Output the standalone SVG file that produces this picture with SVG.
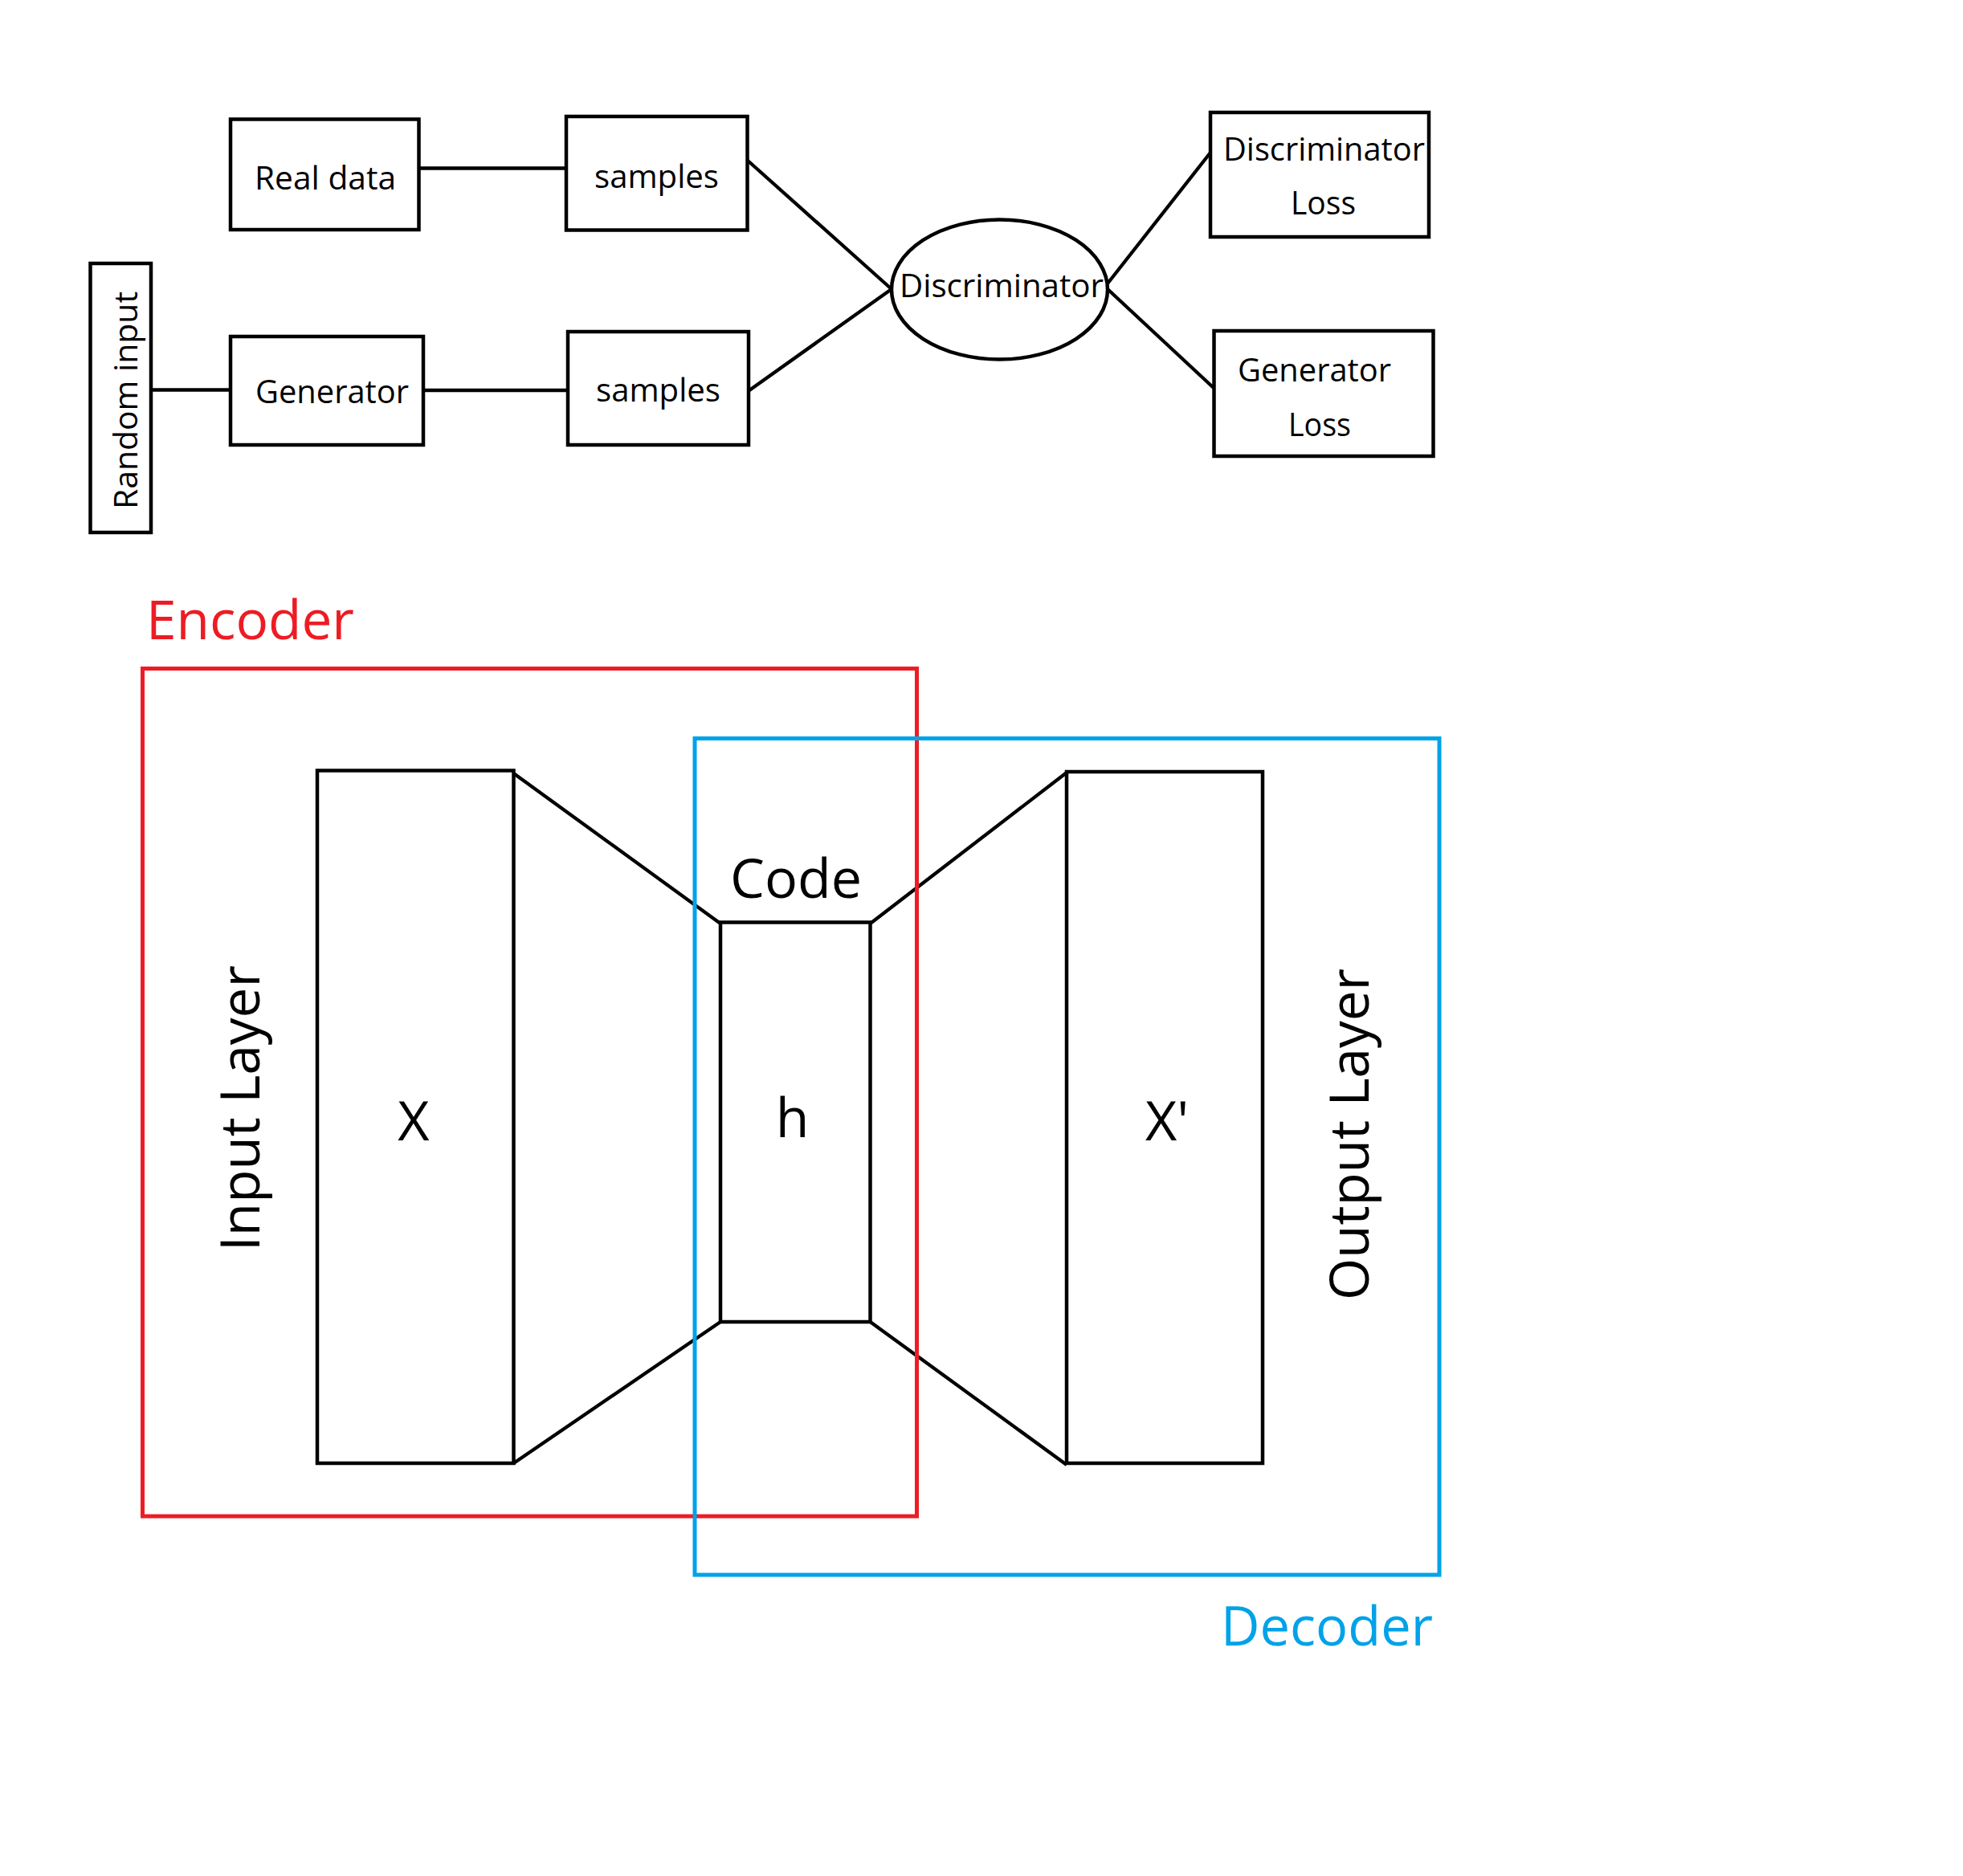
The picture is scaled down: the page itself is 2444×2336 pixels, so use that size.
<svg xmlns="http://www.w3.org/2000/svg" width="2444" height="2336" viewBox="0 0 2444 2336">
<style>
.box{fill:none;stroke:#000;stroke-width:4.5}
.lbox{fill:none;stroke:#000;stroke-width:4.5}
.ln{fill:none;stroke:#000;stroke-width:4.3}
.t{font-family:"Open Sans","Noto Sans","Liberation Sans",sans-serif;font-size:40px;fill:#000}
.big{font-family:"Open Sans","Noto Sans","Liberation Sans",sans-serif;font-size:68px;fill:#000}
.enc{fill:#ED1C24}
.dec{fill:#00A2E8}
</style>
<rect width="2444" height="2336" fill="#fff"/>
<g id="connectors">
<line class="ln" x1="522" y1="209.5" x2="705" y2="209.5"/>
<line class="ln" x1="188" y1="485.5" x2="287" y2="485.5"/>
<line class="ln" x1="527" y1="486" x2="707" y2="486"/>
<line class="ln" x1="931" y1="200" x2="1110" y2="360"/>
<line class="ln" x1="933" y1="486" x2="1110" y2="360"/>
<line class="ln" x1="1379" y1="353" x2="1507" y2="190"/>
<line class="ln" x1="1379" y1="360" x2="1511" y2="483"/>
<line class="ln" x1="639.5" y1="963" x2="897" y2="1150"/>
<line class="ln" x1="639.5" y1="1822" x2="897" y2="1646"/>
<line class="ln" x1="1083.5" y1="1150" x2="1328" y2="962"/>
<line class="ln" x1="1083.5" y1="1646" x2="1328" y2="1824"/>
</g>
<g id="random-input">
<rect class="box" x="112.5" y="328" width="75.5" height="335"/>
<text class="t" transform="translate(171,634) rotate(-90)" textLength="271" lengthAdjust="spacingAndGlyphs">Random input</text>
</g>
<g id="real-data">
<rect class="box" x="287" y="148.5" width="234.5" height="137.5"/>
<text class="t" x="317" y="236" textLength="176" lengthAdjust="spacingAndGlyphs">Real data</text>
</g>
<g id="samples-real">
<rect class="box" x="705" y="145" width="225.5" height="141.5"/>
<text class="t" x="740" y="234" textLength="155" lengthAdjust="spacingAndGlyphs">samples</text>
</g>
<g id="generator">
<rect class="box" x="287" y="419" width="240" height="135"/>
<text class="t" x="318" y="502" textLength="191" lengthAdjust="spacingAndGlyphs">Generator</text>
</g>
<g id="samples-gen">
<rect class="box" x="707" y="413" width="225" height="141"/>
<text class="t" x="742" y="500" textLength="155" lengthAdjust="spacingAndGlyphs">samples</text>
</g>
<g id="discriminator">
<ellipse class="box" cx="1244.5" cy="360.5" rx="134.5" ry="87"/>
<text class="t" x="1120" y="370" textLength="254" lengthAdjust="spacingAndGlyphs">Discriminator</text>
</g>
<g id="discriminator-loss">
<rect class="box" x="1507" y="140" width="272" height="155"/>
<text class="t" x="1523" y="200" textLength="251" lengthAdjust="spacingAndGlyphs">Discriminator</text>
<text class="t" x="1607" y="267" textLength="81" lengthAdjust="spacingAndGlyphs">Loss</text>
</g>
<g id="generator-loss">
<rect class="box" x="1511.5" y="412" width="273" height="156"/>
<text class="t" x="1541" y="475" textLength="191" lengthAdjust="spacingAndGlyphs">Generator</text>
<text class="t" x="1604" y="543" textLength="78" lengthAdjust="spacingAndGlyphs">Loss</text>
</g>
<g id="encoder">
<rect x="177.5" y="832.5" width="964" height="1055.5" fill="none" stroke="#ED1C24" stroke-width="5"/>
<text class="big enc" x="182" y="796" textLength="259" lengthAdjust="spacingAndGlyphs">Encoder</text>
</g>
<g id="decoder">
<rect x="865" y="919.5" width="927" height="1041.5" fill="none" stroke="#00A2E8" stroke-width="5"/>
<text class="big dec" x="1520" y="2049" textLength="264" lengthAdjust="spacingAndGlyphs">Decoder</text>
</g>
<g id="input-layer">
<rect class="lbox" x="395" y="959.5" width="244.5" height="862.5"/>
<text class="big" x="515" y="1420" text-anchor="middle">X</text>
<text class="big" transform="translate(322.5,1558) rotate(-90)" textLength="356" lengthAdjust="spacingAndGlyphs">Input Layer</text>
</g>
<g id="code">
<rect class="lbox" x="897" y="1148.5" width="186.5" height="497.5"/>
<text class="big" x="909" y="1118" textLength="164" lengthAdjust="spacingAndGlyphs">Code</text>
<text class="big" x="986.5" y="1416" text-anchor="middle">h</text>
</g>
<g id="output-layer">
<rect class="lbox" x="1328" y="961" width="244" height="861"/>
<text class="big" x="1453" y="1420" text-anchor="middle">X'</text>
<text class="big" transform="translate(1703.5,1619) rotate(-90)" textLength="413" lengthAdjust="spacingAndGlyphs">Output Layer</text>
</g>
</svg>
